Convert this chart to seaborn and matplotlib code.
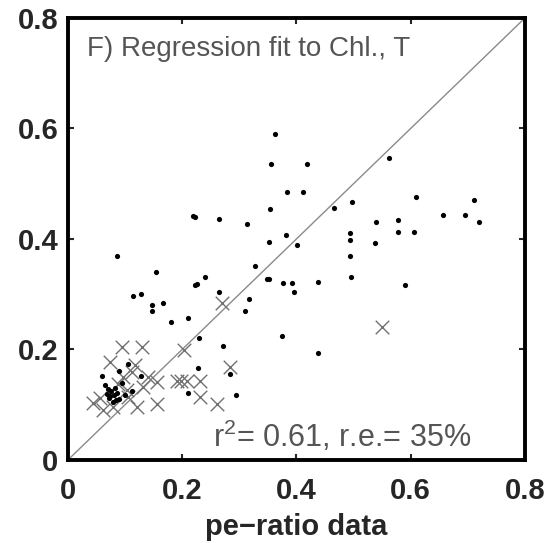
import matplotlib
matplotlib.use("Agg")
import matplotlib.pyplot as plt
import seaborn as sns
import pandas as pd

# Black dots: regression fit (x = pe-ratio data, y = fit)
dot_x = [0.362, 0.356, 0.418, 0.383, 0.411, 0.562, 0.354, 0.219, 0.222, 0.265,
         0.313, 0.466, 0.497, 0.609, 0.711, 0.657, 0.695, 0.719, 0.539, 0.578,
         0.578, 0.606, 0.494, 0.494, 0.538, 0.352, 0.382, 0.401, 0.086, 0.494,
         0.154, 0.240, 0.226, 0.222, 0.327, 0.348, 0.352, 0.496, 0.377, 0.392,
         0.396, 0.438, 0.590, 0.114, 0.128, 0.147, 0.147, 0.166, 0.264, 0.317,
         0.310, 0.180, 0.210, 0.229, 0.272, 0.375, 0.438, 0.228, 0.284, 0.210,
         0.294, 0.060, 0.089, 0.105, 0.128, 0.068, 0.072, 0.076, 0.080, 0.084,
         0.070, 0.078, 0.086, 0.074, 0.082, 0.095, 0.064, 0.090, 0.100, 0.112]
dot_y = [0.590, 0.536, 0.536, 0.485, 0.485, 0.547, 0.454, 0.442, 0.440, 0.436,
         0.427, 0.456, 0.467, 0.476, 0.471, 0.443, 0.443, 0.431, 0.431, 0.435,
         0.413, 0.413, 0.411, 0.398, 0.393, 0.395, 0.407, 0.389, 0.369, 0.369,
         0.340, 0.331, 0.318, 0.316, 0.351, 0.328, 0.328, 0.331, 0.320, 0.320,
         0.304, 0.322, 0.316, 0.297, 0.300, 0.281, 0.270, 0.284, 0.304, 0.291,
         0.270, 0.250, 0.256, 0.221, 0.206, 0.224, 0.193, 0.166, 0.156, 0.121,
         0.118, 0.152, 0.161, 0.173, 0.152, 0.120, 0.112, 0.125, 0.118, 0.109,
         0.128, 0.105, 0.122, 0.115, 0.130, 0.140, 0.135, 0.110, 0.118, 0.125]

# Grey crosses
cross_x = [0.270, 0.550, 0.095, 0.130, 0.203, 0.074, 0.117, 0.284, 0.140, 0.156,
           0.191, 0.198, 0.208, 0.231, 0.231, 0.261, 0.156, 0.044, 0.061, 0.079,
           0.121, 0.103, 0.096, 0.131, 0.105, 0.056, 0.088, 0.112]
cross_y = [0.284, 0.241, 0.205, 0.205, 0.199, 0.177, 0.172, 0.168, 0.150, 0.141,
           0.143, 0.143, 0.143, 0.143, 0.114, 0.101, 0.101, 0.103, 0.090, 0.096,
           0.096, 0.127, 0.150, 0.132, 0.114, 0.112, 0.138, 0.160]

ticks = [0, 0.2, 0.4, 0.6, 0.8]
tick_labels = ["0", "0.2", "0.4", "0.6", "0.8"]

dots = pd.DataFrame({"x": dot_x, "y": dot_y})
crosses = pd.DataFrame({"x": cross_x, "y": cross_y})

sns.set_style("white")
plt.rcParams["font.family"] = ["Liberation Sans", "DejaVu Sans"]
plt.rcParams["mathtext.fontset"] = "custom"
plt.rcParams["mathtext.rm"] = "Liberation Sans"

fig = plt.figure(figsize=(5.48, 5.43), dpi=100)
ax = fig.add_axes([0.124, 0.153, 0.834, 0.814])

ax.axline((0, 0), slope=1, color="#8a8a8a", lw=1.0, zorder=1)
sns.scatterplot(data=crosses, x="x", y="y", marker="x", s=95, color="#707070",
                linewidth=1.0, ax=ax, zorder=2)
sns.scatterplot(data=dots, x="x", y="y", marker="o", s=14, color="black",
                edgecolor="black", linewidth=0, ax=ax, zorder=3)

ax.set_xlim(0, 0.8)
ax.set_ylim(0, 0.8)
ax.set_xticks(ticks)
ax.set_xticklabels(tick_labels)
ax.set_yticks(ticks)
ax.set_yticklabels(tick_labels)
ax.tick_params(direction="in", length=4, width=1.5, labelsize=21,
               top=True, right=True, bottom=True, left=True)
ax.tick_params(axis="x", pad=12)
ax.tick_params(axis="y", pad=7)
for lab in ax.get_xticklabels() + ax.get_yticklabels():
    lab.set_fontweight("bold")
for sp in ax.spines.values():
    sp.set_linewidth(2.8)
    sp.set_color("black")

ax.set_xlabel("pe\u2212ratio data", fontsize=21, fontweight="bold", labelpad=6)
ax.set_ylabel("")
ax.text(0.042, 0.958, "F) Regression fit to Chl., T", transform=ax.transAxes,
        fontsize=20, color="#555555", va="top", ha="left")
ax.text(0.317, 0.03, "r$^\\mathregular{2}$= 0.61, r.e.= 35%", transform=ax.transAxes,
        fontsize=22, color="#555555", va="baseline", ha="left")

fig.savefig("out.png", dpi=100)
plt.close(fig)
